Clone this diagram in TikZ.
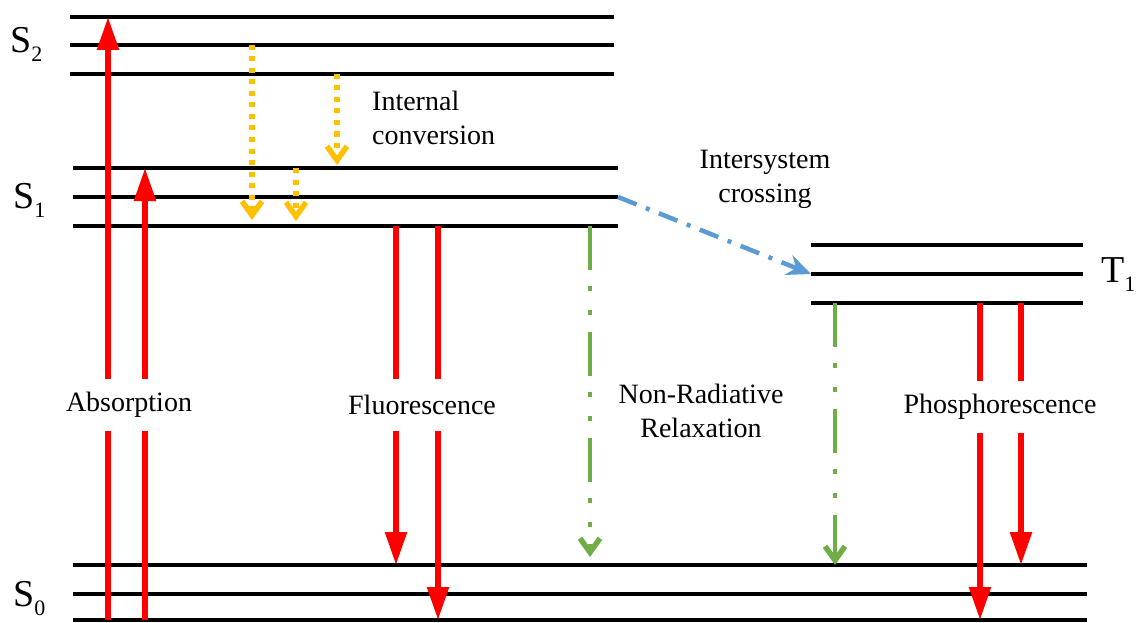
\documentclass[tikz,border=0pt]{standalone}
\usepackage{fontspec}
\setmainfont{Liberation Serif}
\usetikzlibrary{arrows.meta,decorations.markings}
\definecolor{icorange}{HTML}{FFC000}
\definecolor{nrgreen}{HTML}{70AD47}
\definecolor{iscblue}{HTML}{5B9BD5}
\newcommand{\statelbl}[2]{#1\raisebox{-9pt}{\fontsize{22}{22}\selectfont #2}}

\begin{document}
\begin{tikzpicture}[x=1pt, y=-1pt,
  level/.style={line width=3.5pt},
  rad/.style={red, line width=5.5pt, -{Triangle[length=33pt, width=21pt]}},
  vtip/.style={postaction={decorate}, decoration={markings,
    mark=at position 1 with {\arrow[solid, line width=5.5pt]{Straight Barb[length=14pt, width=20pt]}}}},
  ic/.style={icorange, line width=5.5pt, dash pattern=on 5pt off 6.5pt, shorten >=5pt, vtip},
  nr/.style={nrgreen, line width=4.5pt, shorten >=5pt, vtip,
    dash pattern=on 44pt off 16pt on 5pt off 19pt on 5pt off 17pt},
  isc/.style={iscblue, line width=4.5pt, dash pattern=on 20pt off 10pt on 4pt off 10pt,
    -{Stealth[length=24pt, width=21pt, inset=8pt]}},
  txt/.style={font=\fontsize{28}{34}\selectfont, align=center, inner sep=0pt},
  gap/.style={txt, fill=white, minimum height=52pt, inner xsep=2pt},
  state/.style={font=\fontsize{38}{38}\selectfont, inner sep=0pt, anchor=base west}]
\useasboundingbox (0,0) rectangle (1145,623);

% energy levels
\foreach \y [count=\i] in {17,45,74}
  \draw[level] (70,\y) coordinate (S2-\i) -- (614,\y) coordinate (S2-\i-e);
\foreach \y [count=\i] in {168,197,226}
  \draw[level] (73,\y) coordinate (S1-\i) -- (618,\y) coordinate (S1-\i-e);
\foreach \y [count=\i] in {245,274,303}
  \draw[level] (811,\y) coordinate (T1-\i) -- (1083,\y) coordinate (T1-\i-e);
\foreach \y [count=\i] in {565,594,620}
  \draw[level] (73,\y) coordinate (S0-\i) -- (1087,\y) coordinate (S0-\i-e);

\node[state] (s2) at (10,53) {\statelbl{S}{2}};
\node[state] (s1) at (13,208) {\statelbl{S}{1}};
\node[state] (s0) at (13,606) {\statelbl{S}{0}};
\node[state] (t1) at (1101,282) {\statelbl{T}{1}};

% absorption
\draw[rad] (108,0 |- S0-3) -- (108,0 |- S2-1);
\draw[rad] (145,0 |- S0-3) -- (145,0 |- S1-1);

% internal conversion
\draw[ic] (252,0 |- S2-2) -- (252,220);
\draw[ic] (337,0 |- S2-3) -- (337,165);
\draw[ic] (296,0 |- S1-1) -- (296,221);

% fluorescence
\draw[rad] (396,0 |- S1-3) -- (396,0 |- S0-1);
\draw[rad] (438,0 |- S1-3) -- (438,0 |- S0-3);

% non-radiative
\draw[nr] (590,0 |- S1-3) -- (590,557);
\draw[nr] (835,0 |- T1-3) -- (835,0 |- S0-1);

% intersystem crossing
\draw[isc] (S1-2-e) -- (T1-2);

% phosphorescence
\draw[rad] (980,0 |- T1-3) -- (980,0 |- S0-3);
\draw[rad] (1021,0 |- T1-3) -- (1021,0 |- S0-1);

\node[gap] (abs) at (129,405) {Absorption};
\node[gap] (fluo) at (422,405) {Fluorescence};
\node[gap] (phos) at (1000,407) {Phosphorescence};
\node[txt, align=left, anchor=west] (intconv) at (372,118) {Internal\\conversion};
\node[txt] (iscl) at (765,179) {Intersystem\\crossing};
\node[txt] (nrl) at (701,411) {Non-Radiative\\Relaxation};
\end{tikzpicture}
\end{document}
